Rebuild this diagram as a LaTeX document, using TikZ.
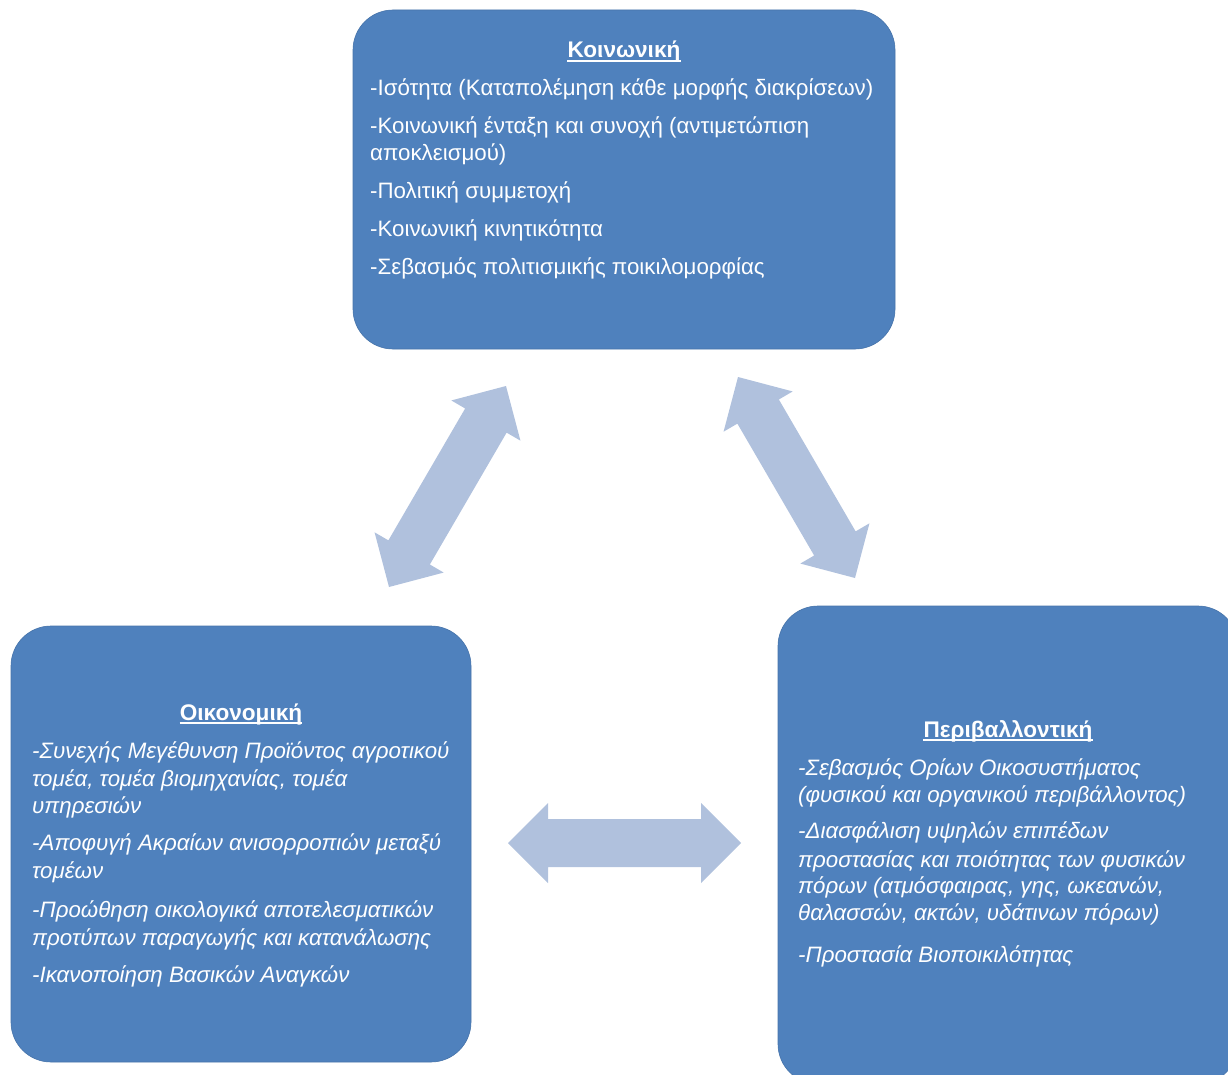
\documentclass[tikz,border=0pt]{standalone}
\usepackage{fontspec}
\setmainfont{Liberation Sans}
\usetikzlibrary{calc}
\definecolor{boxblue}{HTML}{4F81BD}
\definecolor{arrowblue}{HTML}{B0C1DD}
\tikzset{
  box/.style={fill=boxblue, draw=boxblue!90!black, line width=0.6pt, rounded corners=40pt},
  ln/.style={anchor=base west, inner sep=0pt, text=white, font=\fontsize{22.3}{26}\selectfont},
  lni/.style={ln, font=\fontsize{22.3}{26}\selectfont\itshape},
  hd/.style={anchor=base, inner sep=0pt, text=white, font=\fontsize{22.6}{26}\selectfont\bfseries},
  uline/.style={draw=white, line width=1.4pt},
  blockarrow/.style={fill=arrowblue}
}
\newcommand\dblarrow[2]{%
  \fill[blockarrow] (#1)
    -- ($($(#1)!40pt!(#2)$)!40pt!90:(#2)$)
    -- ($($(#1)!40pt!(#2)$)!24pt!90:(#2)$)
    -- ($($(#2)!40pt!(#1)$)!24pt!-90:(#1)$)
    -- ($($(#2)!40pt!(#1)$)!40pt!-90:(#1)$)
    -- (#2)
    -- ($($(#2)!40pt!(#1)$)!40pt!90:(#1)$)
    -- ($($(#2)!40pt!(#1)$)!24pt!90:(#1)$)
    -- ($($(#1)!40pt!(#2)$)!24pt!-90:(#2)$)
    -- ($($(#1)!40pt!(#2)$)!40pt!-90:(#2)$)
    -- cycle;}
\begin{document}
\begin{tikzpicture}[x=1pt,y=-1pt]
\useasboundingbox (0,0) rectangle (1228,1075);
\clip (0,0) rectangle (1228,1075);
% boxes
\draw[box] (353,10) rectangle (895,349);
\draw[box] (11,626) rectangle (471,1062);
\draw[box] (778,606) rectangle (1238,1084);
\node[inner sep=0pt] (soc) at (624,180) {};
\node[inner sep=0pt] (eco) at (241,844) {};
\node[inner sep=0pt] (env) at (1008,845) {};
% arrows
\coordinate (a1) at (389,587);
\coordinate (a2) at (506,386);
\coordinate (b1) at (738,377);
\coordinate (b2) at (855,578);
\coordinate (c1) at (508,843);
\coordinate (c2) at (741,843);
\dblarrow{a1}{a2}
\dblarrow{b1}{b2}
\dblarrow{c1}{c2}
% top box text
\node[hd] (h1) at (624,58) {Κοινωνική};
\draw[uline] ([yshift=-3pt]h1.base west) -- ([yshift=-3pt]h1.base east);
\node[ln] (t1) at (370,96) {-Ισότητα (Καταπολέμηση κάθε μορφής διακρίσεων)};
\node[ln] (t2) at (370,134) {-Κοινωνική ένταξη και συνοχή (αντιμετώπιση};
\node[ln] (t3) at (370,161) {αποκλεισμού)};
\node[ln] (t4) at (370,199) {-Πολιτική συμμετοχή};
\node[ln] (t5) at (370,237) {-Κοινωνική κινητικότητα};
\node[ln] (t6) at (370,275) {-Σεβασμός πολιτισμικής ποικιλομορφίας};
% left box text
\node[hd] (h2) at (241,720) {Οικονομική};
\draw[uline] ([yshift=-3pt]h2.base west) -- ([yshift=-3pt]h2.base east);
\node[lni] (l1) at (32,758) {-Συνεχής Μεγέθυνση Προϊόντος αγροτικού};
\node[lni] (l2) at (32,786) {τομέα, τομέα βιομηχανίας, τομέα};
\node[lni] (l3) at (32,813) {υπηρεσιών};
\node[lni] (l4) at (32,850) {-Αποφυγή Ακραίων ανισορροπιών μεταξύ};
\node[lni] (l5) at (32,878) {τομέων};
\node[lni] (l6) at (32,917) {-Προώθηση οικολογικά αποτελεσματικών};
\node[lni] (l7) at (32,945) {προτύπων παραγωγής και κατανάλωσης};
\node[lni] (l8) at (32,982) {-Ικανοποίηση Βασικών Αναγκών};
% right box text
\node[hd] (h3) at (1008,737) {Περιβαλλοντική};
\draw[uline] ([yshift=-3pt]h3.base west) -- ([yshift=-3pt]h3.base east);
\node[lni] (r1) at (798,775) {-Σεβασμός Ορίων Οικοσυστήματος};
\node[lni] (r2) at (798,802) {(φυσικού και οργανικού περιβάλλοντος)};
\node[lni] (r3) at (798,838) {-Διασφάλιση υψηλών επιπέδων};
\node[lni] (r4) at (798,867) {προστασίας και ποιότητας των φυσικών};
\node[lni] (r5) at (798,893) {πόρων (ατμόσφαιρας, γης, ωκεανών,};
\node[lni] (r6) at (798,920) {θαλασσών, ακτών, υδάτινων πόρων)};
\node[lni] (r7) at (798,962) {-Προστασία Βιοποικιλότητας};
\end{tikzpicture}
\end{document}
